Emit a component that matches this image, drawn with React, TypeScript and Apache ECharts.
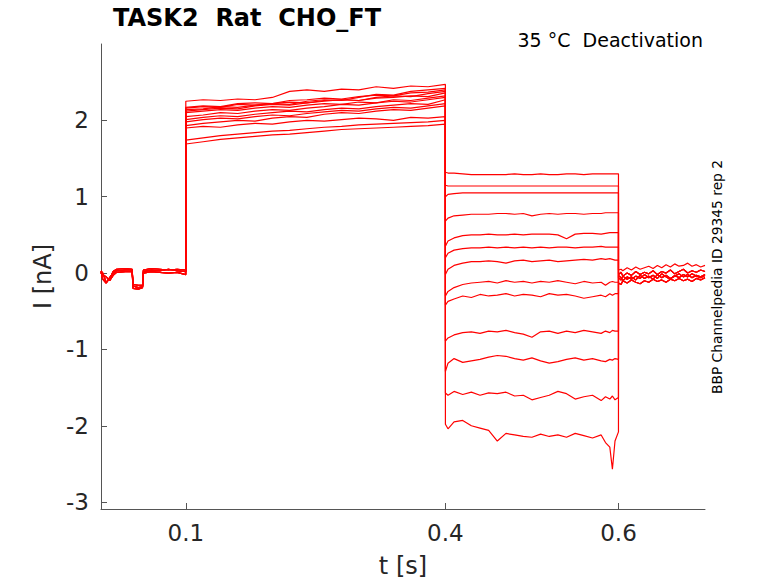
import { useEffect, useRef } from "react";
import * as echarts from "echarts";

// time grids (s) for the four parts of each sweep
const preT = [0.002, 0.004, 0.008, 0.012, 0.016, 0.02, 0.03, 0.038, 0.039, 0.045, 0.05, 0.051, 0.06, 0.07, 0.08, 0.09, 0.1];
const actT = [0.1, 0.12, 0.14, 0.16, 0.18, 0.2, 0.22, 0.24, 0.26, 0.28, 0.3, 0.32, 0.34, 0.36, 0.38, 0.4];
const deacT = [0.4, 0.403, 0.41, 0.42, 0.43, 0.44, 0.45, 0.46, 0.47, 0.48, 0.49, 0.5, 0.51, 0.52, 0.53, 0.54, 0.55, 0.56, 0.57, 0.58, 0.585, 0.59, 0.593, 0.596, 0.6];
const postT = [0.6, 0.603, 0.605, 0.61, 0.615, 0.62, 0.625, 0.63, 0.635, 0.64, 0.645, 0.65, 0.655, 0.66, 0.665, 0.67, 0.675, 0.68, 0.685, 0.69, 0.695, 0.7];

// holding current before the activation step (nA)
const preA = [0.02, -0.08, -0.13, -0.06, 0.0, 0.03, 0.04, 0.04, -0.17, -0.19, -0.18, 0.02, 0.04, 0.03, 0.05, 0.03, 0.02];
const preB = [0.0, -0.02, -0.05, -0.1, -0.03, 0.01, 0.02, 0.02, -0.2, -0.21, -0.19, 0.0, 0.02, 0.01, 0.0, 0.01, -0.02];
const preC = [0.03, 0.0, -0.12, -0.08, 0.02, 0.05, 0.06, 0.05, -0.15, -0.16, -0.16, 0.04, 0.06, 0.05, 0.04, 0.05, 0.04];
const preSets = [preA, preB, preC];

// activation step, 0.1 - 0.4 s
const act = [
  [2.16, 2.18, 2.17, 2.21, 2.2, 2.22, 2.24, 2.23, 2.26, 2.27, 2.26, 2.29, 2.3, 2.32, 2.31, 2.36],
  [2.25, 2.27, 2.26, 2.28, 2.27, 2.3, 2.38, 2.4, 2.38, 2.41, 2.4, 2.44, 2.42, 2.45, 2.44, 2.47],
  [2.14, 2.15, 2.18, 2.17, 2.2, 2.22, 2.21, 2.25, 2.27, 2.26, 2.3, 2.34, 2.33, 2.38, 2.4, 2.42],
  [2.1, 2.12, 2.14, 2.13, 2.16, 2.18, 2.17, 2.2, 2.22, 2.21, 2.24, 2.23, 2.27, 2.26, 2.29, 2.32],
  [2.17, 2.19, 2.18, 2.22, 2.23, 2.22, 2.26, 2.27, 2.29, 2.28, 2.31, 2.33, 2.32, 2.36, 2.37, 2.4],
  [2.01, 2.04, 2.06, 2.05, 2.08, 2.1, 2.12, 2.11, 2.14, 2.16, 2.15, 2.18, 2.2, 2.22, 2.21, 2.27],
  [2.12, 2.14, 2.16, 2.15, 2.19, 2.21, 2.2, 2.23, 2.25, 2.27, 2.26, 2.3, 2.32, 2.31, 2.35, 2.38],
  [1.93, 1.96, 1.98, 2.0, 1.99, 2.03, 2.05, 2.04, 2.08, 2.1, 2.09, 2.12, 2.14, 2.13, 2.16, 2.19],
  [2.05, 2.07, 2.1, 2.09, 2.12, 2.14, 2.13, 2.16, 2.18, 2.21, 2.2, 2.23, 2.25, 2.24, 2.27, 2.3],
  [1.9, 1.92, 1.91, 1.94, 1.96, 1.95, 1.98, 2.0, 1.99, 2.01, 2.03, 2.02, 2.0, 2.04, 2.03, 2.05],
  [1.98, 2.01, 2.03, 2.02, 2.05, 2.07, 2.06, 2.09, 2.11, 2.13, 2.12, 2.15, 2.17, 2.16, 2.19, 2.22],
  [1.69, 1.72, 1.75, 1.77, 1.79, 1.81, 1.82, 1.84, 1.86, 1.88, 1.89, 1.9, 1.91, 1.92, 1.93, 1.95],
  [1.74, 1.77, 1.8, 1.82, 1.84, 1.86, 1.87, 1.89, 1.91, 1.92, 1.94, 1.95, 1.96, 1.97, 1.98, 2.0],
];

// deactivation step, 0.4 - 0.6 s
const deac = [
  [1.32, 1.31, 1.31, 1.3, 1.29, 1.29, 1.29, 1.29, 1.29, 1.3, 1.29, 1.29, 1.3, 1.29, 1.29, 1.3, 1.3, 1.29, 1.3, 1.3, 1.3, 1.3, 1.3, 1.3, 1.3],
  [1.15, 1.14, 1.14, 1.14, 1.14, 1.14, 1.14, 1.14, 1.14, 1.14, 1.14, 1.14, 1.14, 1.14, 1.14, 1.14, 1.14, 1.14, 1.14, 1.14, 1.14, 1.14, 1.14, 1.14, 1.14],
  [1.0, 1.03, 1.04, 1.05, 1.05, 1.05, 1.05, 1.05, 1.05, 1.05, 1.05, 1.05, 1.05, 1.05, 1.05, 1.05, 1.05, 1.05, 1.05, 1.05, 1.05, 1.05, 1.05, 1.05, 1.05],
  [0.68, 0.72, 0.75, 0.76, 0.77, 0.77, 0.77, 0.78, 0.78, 0.77, 0.78, 0.75, 0.77, 0.78, 0.77, 0.78, 0.78, 0.77, 0.78, 0.78, 0.79, 0.79, 0.79, 0.79, 0.79],
  [0.35, 0.42, 0.46, 0.49, 0.5, 0.5, 0.51, 0.5, 0.5, 0.51, 0.5, 0.51, 0.51, 0.51, 0.5, 0.45, 0.51, 0.52, 0.52, 0.51, 0.52, 0.53, 0.53, 0.53, 0.53],
  [0.2, 0.26, 0.3, 0.32, 0.33, 0.33, 0.34, 0.33, 0.34, 0.33, 0.34, 0.33, 0.34, 0.33, 0.34, 0.34, 0.33, 0.34, 0.34, 0.35, 0.34, 0.34, 0.34, 0.34, 0.34],
  [-0.02, 0.05, 0.1, 0.13, 0.15, 0.15, 0.16, 0.15, 0.13, 0.16, 0.17, 0.15, 0.16, 0.17, 0.15, 0.16, 0.17, 0.18, 0.17, 0.19, 0.18, 0.19, 0.18, 0.17, 0.17],
  [-0.3, -0.24, -0.19, -0.15, -0.13, -0.12, -0.11, -0.13, -0.1, -0.12, -0.11, -0.13, -0.11, -0.12, -0.1, -0.12, -0.14, -0.11, -0.13, -0.12, -0.16, -0.12, -0.11, -0.12, -0.12],
  [-0.42, -0.37, -0.34, -0.3, -0.32, -0.28, -0.3, -0.29, -0.27, -0.3, -0.28, -0.29, -0.31, -0.27, -0.29, -0.28, -0.3, -0.33, -0.31, -0.29, -0.31, -0.27, -0.29, -0.27, -0.27],
  [-0.89, -0.85, -0.81, -0.78, -0.77, -0.79, -0.76, -0.77, -0.75, -0.78, -0.8, -0.84, -0.77, -0.76, -0.79, -0.76, -0.78, -0.75, -0.77, -0.79, -0.76, -0.78, -0.75, -0.76, -0.76],
  [-1.29, -1.18, -1.12, -1.17, -1.15, -1.13, -1.1, -1.08, -1.09, -1.12, -1.14, -1.11, -1.15, -1.18, -1.16, -1.13, -1.11, -1.14, -1.12, -1.15, -1.16, -1.13, -1.14, -1.12, -1.13],
  [-1.57, -1.6, -1.55, -1.59, -1.56, -1.6, -1.57, -1.58, -1.56, -1.61, -1.6, -1.66, -1.63, -1.6, -1.55, -1.58, -1.65, -1.62, -1.6, -1.67, -1.62, -1.65, -1.61, -1.66, -1.63],
  [-1.98, -2.04, -1.95, -1.93, -2.0, -2.03, -2.06, -2.2, -2.1, -2.12, -2.14, -2.15, -2.11, -2.14, -2.12, -2.15, -2.1, -2.13, -2.16, -2.12, -2.22, -2.28, -2.57, -2.2, -2.08],
];

// tail current after the return to holding
const postA = [0.04, 0.05, 0.03, 0.07, 0.04, 0.08, 0.05, 0.07, 0.09, 0.06, 0.1, 0.07, 0.11, 0.08, 0.12, 0.09, 0.1, 0.13, 0.09, 0.11, 0.08, 0.1];
const postB = [-0.02, 0.01, -0.04, 0.0, -0.03, 0.02, -0.02, 0.01, -0.01, 0.03, -0.02, 0.02, 0.0, 0.04, -0.01, 0.02, 0.05, 0.0, 0.03, 0.01, 0.04, 0.02];
const postC = [-0.06, -0.09, -0.04, -0.08, -0.05, -0.09, -0.03, -0.07, -0.04, -0.08, -0.02, -0.06, -0.03, -0.07, -0.04, -0.01, -0.05, -0.02, -0.06, -0.03, -0.05, -0.02];
const postD = [-0.13, -0.15, -0.1, -0.13, -0.09, -0.12, -0.14, -0.1, -0.12, -0.08, -0.11, -0.09, -0.12, -0.08, -0.1, -0.07, -0.1, -0.08, -0.11, -0.07, -0.09, -0.06];
const postE = [-0.03, -0.06, -0.1, -0.05, -0.08, -0.04, -0.07, -0.02, -0.06, -0.03, -0.07, -0.01, -0.05, -0.08, -0.03, -0.06, -0.02, -0.05, -0.01, -0.04, -0.06, -0.03];
const postSets = [postA, postB, postC, postD, postE];

const preOf = [0, 1, 2, 0, 1, 2, 0, 1, 2, 0, 1, 2, 0];
const postOf = [0, 1, 2, 4, 1, 2, 3, 4, 2, 1, 4, 3, 3];

const xTicks = [0.1, 0.4, 0.6];
const yTicks = [-3, -2, -1, 0, 1, 2];

const FONT = "DejaVu Sans";
const INK = "#262626";

const App = () => {
  const chartRef = useRef<HTMLDivElement>(null);

  useEffect(() => {
    if (!chartRef.current) return;
    const chart = echarts.init(chartRef.current, null, { renderer: "svg" });

    const series = act.map((a, s) => {
      const pre = preSets[preOf[s]];
      const post = postSets[postOf[s]];
      const data = [
        ...preT.map((t, i) => [t, pre[i]]),
        ...actT.map((t, i) => [t, a[i]]),
        ...deacT.map((t, i) => [t, deac[s][i]]),
        ...postT.map((t, i) => [t, post[i]]),
      ];
      return {
        type: "line",
        data,
        showSymbol: false,
        symbol: "none",
        lineStyle: { color: "#ff0000", width: 1.2 },
        z: 2,
      };
    });

    chart.setOption({
      animation: false,
      grid: { left: 101, right: 73, top: 44, bottom: 71 },
      xAxis: {
        type: "value",
        min: 0.002,
        max: 0.7,
        name: "t [s]",
        nameLocation: "middle",
        nameGap: 45,
        nameTextStyle: { fontFamily: FONT, fontSize: 24, color: INK },
        axisLine: { show: true, onZero: false, lineStyle: { color: "#555", width: 1 } },
        axisTick: { show: true, inside: true, length: 6, customValues: xTicks, lineStyle: { color: "#555" } },
        axisLabel: { customValues: xTicks, fontFamily: FONT, fontSize: 23, color: INK, margin: 12 },
        splitLine: { show: false },
      },
      yAxis: {
        type: "value",
        min: -3.09,
        max: 3.0,
        name: "I [nA]",
        nameLocation: "middle",
        nameGap: 35,
        nameTextStyle: { fontFamily: FONT, fontSize: 24, color: INK },
        axisLine: { show: true, onZero: false, lineStyle: { color: "#555", width: 1 } },
        axisTick: { show: true, inside: true, length: 6, customValues: yTicks, lineStyle: { color: "#555" } },
        axisLabel: { customValues: yTicks, fontFamily: FONT, fontSize: 23, color: INK, margin: 12 },
        splitLine: { show: false },
      },
      graphic: [
        {
          type: "text",
          x: 113,
          y: 18,
          style: {
            text: "TASK2  Rat  CHO_FT",
            font: `bold 24px '${FONT}'`,
            fill: "#000",
            textAlign: "left",
            textVerticalAlign: "middle",
          },
        },
        {
          type: "text",
          x: 703,
          y: 40,
          style: {
            text: "35 °C  Deactivation",
            font: `19px '${FONT}'`,
            fill: "#000",
            textAlign: "right",
            textVerticalAlign: "middle",
          },
        },
        {
          type: "text",
          x: 717,
          y: 277,
          rotation: Math.PI / 2,
          style: {
            text: "BBP Channelpedia ID 29345 rep 2",
            font: `13.8px '${FONT}'`,
            fill: "#000",
            textAlign: "center",
            textVerticalAlign: "middle",
          },
        },
      ],
      series,
    });

    return () => {
      chart.dispose();
    };
  }, []);

  return (
    <div
      ref={chartRef}
      style={{ position: "fixed", left: 0, top: 0, width: 778, height: 583, background: "#fff" }}
    />
  );
};

export default App;
